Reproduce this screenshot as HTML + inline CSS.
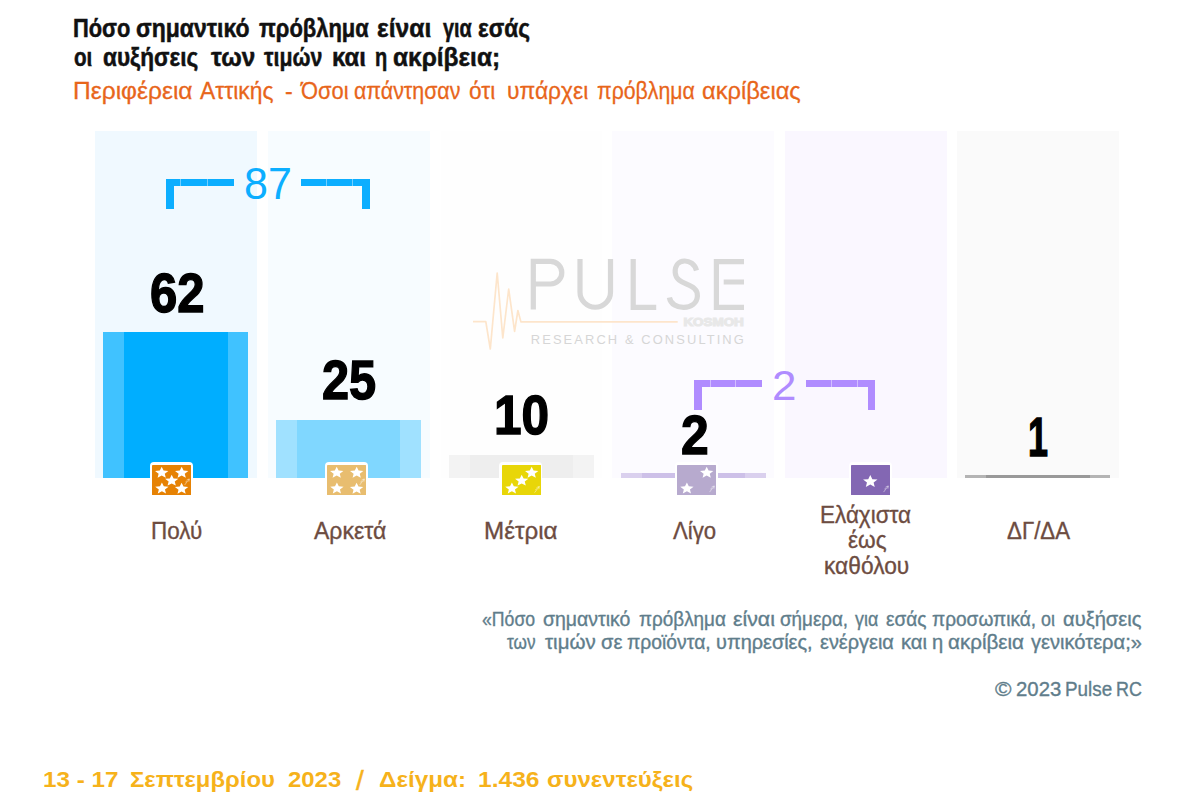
<!DOCTYPE html>
<html lang="el"><head><meta charset="utf-8"><title>Pulse RC</title>
<style>
html,body{margin:0;padding:0;background:#fff;}
body{width:1200px;height:808px;position:relative;overflow:hidden;font-family:"Liberation Sans",sans-serif;}
.t{position:absolute;white-space:nowrap;line-height:1;transform-origin:0 0;}
.abs{position:absolute;}
.r{position:absolute;}
.ico{position:absolute;background:#fff;border-radius:4px 4px 0 0;}
</style></head><body>
<div class="r" style="left:95.20px;top:131.20px;width:161.60px;height:346.60px;background:#F0F9FF"></div>
<div class="r" style="left:268.20px;top:131.20px;width:161.80px;height:346.60px;background:#F7FCFF"></div>
<div class="r" style="left:440.80px;top:131.20px;width:161.60px;height:346.60px;background:#FEFEFE"></div>
<div class="r" style="left:611.80px;top:131.20px;width:162.30px;height:346.60px;background:#FCFBFF"></div>
<div class="r" style="left:785.20px;top:131.20px;width:161.80px;height:346.60px;background:#FAF7FF"></div>
<div class="r" style="left:956.80px;top:131.20px;width:162.00px;height:346.60px;background:#FAFAFA"></div>
<div class="r" style="left:103.40px;top:332.00px;width:144.80px;height:145.80px;background:#40C2FF"></div>
<div class="r" style="left:124.00px;top:332.00px;width:103.70px;height:145.80px;background:#00AEFF"></div>
<div class="r" style="left:276.00px;top:419.70px;width:145.20px;height:58.10px;background:#A0E1FF"></div>
<div class="r" style="left:296.80px;top:419.70px;width:103.70px;height:58.10px;background:#80D7FF"></div>
<div class="r" style="left:449.20px;top:455.00px;width:144.80px;height:22.80px;background:#F3F3F3"></div>
<div class="r" style="left:470.20px;top:455.00px;width:103.00px;height:22.80px;background:#EEEEEE"></div>
<div class="r" style="left:620.80px;top:473.00px;width:145.20px;height:4.80px;background:#DAD0EE"></div>
<div class="r" style="left:641.90px;top:473.00px;width:103.30px;height:4.80px;background:#CDC0E8"></div>
<div class="r" style="left:965.40px;top:475.20px;width:144.70px;height:2.60px;background:#B4B4B4"></div>
<div class="r" style="left:986.20px;top:475.20px;width:103.50px;height:2.60px;background:#999999"></div>
<svg class="abs" style="left:465px;top:245px" width="300" height="115" viewBox="0 0 300 115">
<g fill="none" stroke="#D8D8D8" stroke-width="5.2" stroke-linejoin="miter">
<path d="M68.3 64.6 V16.4 H85.5 a11.3 11.3 0 0 1 0 22.6 H68.3"/>
<path d="M115 14 V47 a15.25 15.25 0 0 0 30.5 0 V14"/>
<path d="M168.2 14 V62.3 H191.2"/>
<path d="M231.5 25.5 C228 12.5 209.5 12.5 210.2 27.5 C211 41.5 233 37 232.4 51 C231.8 66 206.5 66 204.4 52.5"/>
<path d="M279 16.6 H251.4 V62.3 H279 M258.7 37 H279"/>
</g>
<path d="M8 76.7 H20.8 L25.3 104 L32.2 28 L37.8 93 L43.7 44 L49.6 86.3 L52.9 65.5 L55.9 76.9 H212.7" fill="none" stroke="#FDE5CB" stroke-width="1.7" stroke-linejoin="round"/>
<text x="218.4" y="81.4" font-family="Liberation Sans, sans-serif" font-weight="700" font-size="11.6" fill="#E8E8E8" stroke="#E8E8E8" stroke-width="1.1" textLength="60.4" lengthAdjust="spacingAndGlyphs">KOSMOH</text>
<text x="65.8" y="98.7" font-family="Liberation Sans, sans-serif" font-size="12.9" fill="#D6D6D6" textLength="213" lengthAdjust="spacing">RESEARCH &amp; CONSULTING</text>
</svg>
<div class="r" style="left:165.80px;top:178.70px;width:68.40px;height:7.60px;background:#0CAEFF"></div>
<div class="r" style="left:165.80px;top:178.70px;width:7.90px;height:30.00px;background:#0CAEFF"></div>
<div class="r" style="left:301.30px;top:178.70px;width:68.40px;height:7.60px;background:#0CAEFF"></div>
<div class="r" style="left:361.80px;top:178.70px;width:7.90px;height:30.00px;background:#0CAEFF"></div>
<div class="r" style="left:694.40px;top:379.60px;width:67.90px;height:7.60px;background:#B08CFF"></div>
<div class="r" style="left:694.40px;top:379.60px;width:7.70px;height:30.00px;background:#B08CFF"></div>
<div class="r" style="left:806.40px;top:379.60px;width:68.80px;height:7.60px;background:#B08CFF"></div>
<div class="r" style="left:867.50px;top:379.60px;width:7.70px;height:30.00px;background:#B08CFF"></div>
<div class="r" style="left:180.30px;top:178.70px;width:1.00px;height:7.60px;background:rgba(240,249,255,0.45)"></div>
<div class="r" style="left:206.50px;top:178.70px;width:1.00px;height:7.60px;background:rgba(240,249,255,0.45)"></div>
<div class="r" style="left:326.20px;top:178.70px;width:1.00px;height:7.60px;background:rgba(240,249,255,0.45)"></div>
<div class="r" style="left:352.00px;top:178.70px;width:1.00px;height:7.60px;background:rgba(240,249,255,0.45)"></div>
<div class="r" style="left:709.50px;top:379.60px;width:1.00px;height:7.60px;background:rgba(252,251,255,0.45)"></div>
<div class="r" style="left:735.10px;top:379.60px;width:1.00px;height:7.60px;background:rgba(252,251,255,0.45)"></div>
<div class="r" style="left:831.40px;top:379.60px;width:1.00px;height:7.60px;background:rgba(252,251,255,0.45)"></div>
<div class="r" style="left:857.00px;top:379.60px;width:1.00px;height:7.60px;background:rgba(252,251,255,0.45)"></div>
<div class="ico" style="left:149.80px;top:462.00px;width:43.20px;height:33.00px;"></div>
<svg class="abs" style="left:152.00px;top:464.80px" width="39.2" height="30.2" viewBox="0 0 39.2 30.2"><rect x="0" y="0" width="39.2" height="30.2" rx="0.8" fill="#E68204"/><polygon points="9.70,1.78 11.59,5.56 16.36,5.94 12.76,8.66 13.81,12.67 9.70,10.57 5.59,12.67 6.64,8.66 3.04,5.94 7.81,5.56" fill="#fff"/><polygon points="29.70,1.78 31.59,5.56 36.36,5.94 32.76,8.66 33.81,12.67 29.70,10.57 25.59,12.67 26.64,8.66 23.04,5.94 27.81,5.56" fill="#fff"/><polygon points="19.70,9.68 21.59,13.46 26.36,13.84 22.76,16.56 23.81,20.57 19.70,18.47 15.59,20.57 16.64,16.56 13.04,13.84 17.81,13.46" fill="#fff"/><polygon points="9.90,17.58 11.79,21.36 16.56,21.74 12.96,24.46 14.01,28.47 9.90,26.37 5.79,28.47 6.84,24.46 3.24,21.74 8.01,21.36" fill="#fff"/><polygon points="29.60,17.78 31.49,21.56 36.26,21.94 32.66,24.66 33.71,28.67 29.60,26.57 25.49,28.67 26.54,24.66 22.94,21.94 27.71,21.56" fill="#fff"/><path d="M32.6 20.1 L37.2 14.1 M34.6 15.1 L37.3 13.9 L36.9 16.7 M33.4 17.1 l1.4 -0.9" stroke="#fff" stroke-opacity="0.5" stroke-width="0.9" fill="none"/></svg>
<div class="ico" style="left:325.10px;top:462.00px;width:43.20px;height:33.00px;"></div>
<svg class="abs" style="left:327.30px;top:464.80px" width="39.2" height="30.2" viewBox="0 0 39.2 30.2"><rect x="0" y="0" width="39.2" height="30.2" rx="0.8" fill="#E8BD6F"/><polygon points="9.70,1.78 11.59,5.56 16.36,5.94 12.76,8.66 13.81,12.67 9.70,10.57 5.59,12.67 6.64,8.66 3.04,5.94 7.81,5.56" fill="#fff"/><polygon points="29.70,1.78 31.59,5.56 36.36,5.94 32.76,8.66 33.81,12.67 29.70,10.57 25.59,12.67 26.64,8.66 23.04,5.94 27.81,5.56" fill="#fff"/><polygon points="9.90,17.58 11.79,21.36 16.56,21.74 12.96,24.46 14.01,28.47 9.90,26.37 5.79,28.47 6.84,24.46 3.24,21.74 8.01,21.36" fill="#fff"/><polygon points="29.60,17.78 31.49,21.56 36.26,21.94 32.66,24.66 33.71,28.67 29.60,26.57 25.49,28.67 26.54,24.66 22.94,21.94 27.71,21.56" fill="#fff"/><path d="M32.6 20.1 L37.2 14.1 M34.6 15.1 L37.3 13.9 L36.9 16.7 M33.4 17.1 l1.4 -0.9" stroke="#fff" stroke-opacity="0.5" stroke-width="0.9" fill="none"/></svg>
<div class="ico" style="left:499.30px;top:462.00px;width:43.20px;height:33.00px;"></div>
<svg class="abs" style="left:501.50px;top:464.80px" width="39.2" height="30.2" viewBox="0 0 39.2 30.2"><rect x="0" y="0" width="39.2" height="30.2" rx="0.8" fill="#E8D608"/><polygon points="29.70,1.78 31.59,5.56 36.36,5.94 32.76,8.66 33.81,12.67 29.70,10.57 25.59,12.67 26.64,8.66 23.04,5.94 27.81,5.56" fill="#fff"/><polygon points="19.70,9.68 21.59,13.46 26.36,13.84 22.76,16.56 23.81,20.57 19.70,18.47 15.59,20.57 16.64,16.56 13.04,13.84 17.81,13.46" fill="#fff"/><polygon points="9.90,17.58 11.79,21.36 16.56,21.74 12.96,24.46 14.01,28.47 9.90,26.37 5.79,28.47 6.84,24.46 3.24,21.74 8.01,21.36" fill="#fff"/><path d="M32.6 27.6 L37.2 21.6 M34.6 22.6 L37.3 21.4 L36.9 24.2 M33.4 24.6 l1.4 -0.9" stroke="#fff" stroke-opacity="0.5" stroke-width="0.9" fill="none"/></svg>
<div class="ico" style="left:674.70px;top:462.00px;width:43.20px;height:33.00px;"></div>
<svg class="abs" style="left:676.90px;top:464.80px" width="39.2" height="30.2" viewBox="0 0 39.2 30.2"><rect x="0" y="0" width="39.2" height="30.2" rx="0.8" fill="#B7AACE"/><polygon points="29.70,1.78 31.59,5.56 36.36,5.94 32.76,8.66 33.81,12.67 29.70,10.57 25.59,12.67 26.64,8.66 23.04,5.94 27.81,5.56" fill="#fff"/><polygon points="9.90,17.58 11.79,21.36 16.56,21.74 12.96,24.46 14.01,28.47 9.90,26.37 5.79,28.47 6.84,24.46 3.24,21.74 8.01,21.36" fill="#fff"/><path d="M32.6 27.1 L37.2 21.1 M34.6 22.1 L37.3 20.9 L36.9 23.7 M33.4 24.1 l1.4 -0.9" stroke="#fff" stroke-opacity="0.5" stroke-width="0.9" fill="none"/></svg>
<div class="ico" style="left:848.80px;top:462.00px;width:43.20px;height:33.00px;"></div>
<svg class="abs" style="left:851.00px;top:464.80px" width="39.2" height="30.2" viewBox="0 0 39.2 30.2"><rect x="0" y="0" width="39.2" height="30.2" rx="0.8" fill="#8367B3"/><polygon points="19.30,10.06 21.35,14.17 26.53,14.58 22.62,17.53 23.77,21.89 19.30,19.61 14.83,21.89 15.98,17.53 12.07,14.58 17.25,14.17" fill="#fff"/><path d="M32.6 27.1 L37.2 21.1 M34.6 22.1 L37.3 20.9 L36.9 23.7 M33.4 24.1 l1.4 -0.9" stroke="#fff" stroke-opacity="0.5" stroke-width="0.9" fill="none"/></svg>
<div class="t" style="left:73.19px;top:15.69px;font-size:25.4px;font-weight:700;color:#111111;transform:scaleX(0.8602);-webkit-text-stroke:0.5px #111111;">Πόσο</div>
<div class="t" style="left:136.06px;top:15.69px;font-size:25.4px;font-weight:700;color:#111111;transform:scaleX(0.9056);-webkit-text-stroke:0.5px #111111;">σημαντικό</div>
<div class="t" style="left:259.18px;top:15.69px;font-size:25.4px;font-weight:700;color:#111111;transform:scaleX(0.8648);-webkit-text-stroke:0.5px #111111;">πρόβλημα</div>
<div class="t" style="left:377.32px;top:15.69px;font-size:25.4px;font-weight:700;color:#111111;transform:scaleX(0.9707);-webkit-text-stroke:0.5px #111111;">είναι</div>
<div class="t" style="left:443.15px;top:15.69px;font-size:25.4px;font-weight:700;color:#111111;transform:scaleX(0.7835);-webkit-text-stroke:0.5px #111111;">για</div>
<div class="t" style="left:478.37px;top:15.69px;font-size:25.4px;font-weight:700;color:#111111;transform:scaleX(0.8940);-webkit-text-stroke:0.5px #111111;">εσάς</div>
<div class="t" style="left:73.73px;top:44.59px;font-size:25.4px;font-weight:700;color:#111111;transform:scaleX(0.8136);-webkit-text-stroke:0.5px #111111;">οι</div>
<div class="t" style="left:103.37px;top:44.59px;font-size:25.4px;font-weight:700;color:#111111;transform:scaleX(0.8908);-webkit-text-stroke:0.5px #111111;">αυξήσεις</div>
<div class="t" style="left:210.66px;top:44.59px;font-size:25.4px;font-weight:700;color:#111111;transform:scaleX(0.9561);-webkit-text-stroke:0.5px #111111;">των</div>
<div class="t" style="left:264.45px;top:44.59px;font-size:25.4px;font-weight:700;color:#111111;transform:scaleX(0.8384);-webkit-text-stroke:0.5px #111111;">τιμών</div>
<div class="t" style="left:331.62px;top:44.59px;font-size:25.4px;font-weight:700;color:#111111;transform:scaleX(0.9422);-webkit-text-stroke:0.5px #111111;">και</div>
<div class="t" style="left:374.80px;top:44.59px;font-size:25.4px;font-weight:700;color:#111111;transform:scaleX(0.7879);-webkit-text-stroke:0.5px #111111;">η</div>
<div class="t" style="left:392.92px;top:44.59px;font-size:25.4px;font-weight:700;color:#111111;transform:scaleX(0.9627);-webkit-text-stroke:0.5px #111111;">ακρίβεια;</div>
<div class="t" style="left:72.59px;top:79.18px;font-size:24.0px;font-weight:400;color:#E8651A;transform:scaleX(1.0232);-webkit-text-stroke:0.3px #E8651A;">Περιφέρεια</div>
<div class="t" style="left:200.14px;top:79.18px;font-size:24.0px;font-weight:400;color:#E8651A;transform:scaleX(0.9505);-webkit-text-stroke:0.3px #E8651A;">Αττικής</div>
<div class="t" style="left:285.16px;top:79.18px;font-size:24.0px;font-weight:400;color:#E8651A;transform:scaleX(0.9615);-webkit-text-stroke:0.3px #E8651A;">-</div>
<div class="t" style="left:300.90px;top:79.18px;font-size:24.0px;font-weight:400;color:#E8651A;transform:scaleX(0.9132);-webkit-text-stroke:0.3px #E8651A;">Όσοι</div>
<div class="t" style="left:354.28px;top:79.18px;font-size:24.0px;font-weight:400;color:#E8651A;transform:scaleX(0.8906);-webkit-text-stroke:0.3px #E8651A;">απάντησαν</div>
<div class="t" style="left:469.24px;top:79.18px;font-size:24.0px;font-weight:400;color:#E8651A;transform:scaleX(0.9427);-webkit-text-stroke:0.3px #E8651A;">ότι</div>
<div class="t" style="left:507.22px;top:79.18px;font-size:24.0px;font-weight:400;color:#E8651A;transform:scaleX(0.9505);-webkit-text-stroke:0.3px #E8651A;">υπάρχει</div>
<div class="t" style="left:596.64px;top:79.18px;font-size:24.0px;font-weight:400;color:#E8651A;transform:scaleX(0.8851);-webkit-text-stroke:0.3px #E8651A;">πρόβλημα</div>
<div class="t" style="left:702.40px;top:79.18px;font-size:24.0px;font-weight:400;color:#E8651A;transform:scaleX(0.9862);-webkit-text-stroke:0.3px #E8651A;">ακρίβειας</div>
<div class="t" style="left:244.37px;top:161.78px;font-size:44.2px;font-weight:400;color:#0CAEFF;transform:scaleX(0.9737);">87</div>
<div class="t" style="left:772.10px;top:363.76px;font-size:42.8px;font-weight:400;color:#B08CFF;transform:scaleX(1.0265);">2</div>
<div class="t" style="left:149.60px;top:266.42px;font-size:55.6px;font-weight:700;color:#000;transform:scaleX(0.8818);-webkit-text-stroke:1.4px #000;">62</div>
<div class="t" style="left:322.03px;top:352.92px;font-size:55.6px;font-weight:700;color:#000;transform:scaleX(0.8762);-webkit-text-stroke:1.4px #000;">25</div>
<div class="t" style="left:493.93px;top:387.92px;font-size:55.6px;font-weight:700;color:#000;transform:scaleX(0.8913);-webkit-text-stroke:1.4px #000;">10</div>
<div class="t" style="left:681.01px;top:407.92px;font-size:55.6px;font-weight:700;color:#000;transform:scaleX(0.8954);-webkit-text-stroke:1.4px #000;">2</div>
<div class="t" style="left:1027.71px;top:410.22px;font-size:55.6px;font-weight:700;color:#000;transform:scaleX(0.6462);-webkit-text-stroke:1.4px #000;">1</div>
<div class="t" style="left:150.87px;top:518.71px;font-size:24.2px;font-weight:400;color:#6D4C41;transform:scaleX(0.9276);-webkit-text-stroke:0.35px #6D4C41;">Πολύ</div>
<div class="t" style="left:313.87px;top:518.71px;font-size:24.2px;font-weight:400;color:#6D4C41;transform:scaleX(0.9515);-webkit-text-stroke:0.35px #6D4C41;">Αρκετά</div>
<div class="t" style="left:484.44px;top:518.71px;font-size:24.2px;font-weight:400;color:#6D4C41;transform:scaleX(0.9989);-webkit-text-stroke:0.35px #6D4C41;">Μέτρια</div>
<div class="t" style="left:672.55px;top:518.71px;font-size:24.2px;font-weight:400;color:#6D4C41;transform:scaleX(0.9173);-webkit-text-stroke:0.35px #6D4C41;">Λίγο</div>
<div class="t" style="left:819.56px;top:502.51px;font-size:24.2px;font-weight:400;color:#6D4C41;transform:scaleX(0.9288);-webkit-text-stroke:0.35px #6D4C41;">Ελάχιστα</div>
<div class="t" style="left:847.53px;top:527.81px;font-size:24.2px;font-weight:400;color:#6D4C41;transform:scaleX(0.9324);-webkit-text-stroke:0.35px #6D4C41;">έως</div>
<div class="t" style="left:823.68px;top:553.91px;font-size:24.2px;font-weight:400;color:#6D4C41;transform:scaleX(0.9409);-webkit-text-stroke:0.35px #6D4C41;">καθόλου</div>
<div class="t" style="left:1006.75px;top:518.71px;font-size:24.2px;font-weight:400;color:#6D4C41;transform:scaleX(0.9212);-webkit-text-stroke:0.35px #6D4C41;">ΔΓ/ΔΑ</div>
<div class="t" style="left:482.45px;top:609.89px;font-size:19.5px;font-weight:400;color:#607D8B;transform:scaleX(0.9054);-webkit-text-stroke:0.35px #607D8B;">«Πόσο</div>
<div class="t" style="left:543.40px;top:609.89px;font-size:19.5px;font-weight:400;color:#607D8B;transform:scaleX(0.9966);-webkit-text-stroke:0.35px #607D8B;">σημαντικό</div>
<div class="t" style="left:639.46px;top:609.89px;font-size:19.5px;font-weight:400;color:#607D8B;transform:scaleX(0.9687);-webkit-text-stroke:0.35px #607D8B;">πρόβλημα</div>
<div class="t" style="left:732.50px;top:609.89px;font-size:19.5px;font-weight:400;color:#607D8B;transform:scaleX(1.0920);-webkit-text-stroke:0.35px #607D8B;">είναι</div>
<div class="t" style="left:780.42px;top:609.89px;font-size:19.5px;font-weight:400;color:#607D8B;transform:scaleX(0.9642);-webkit-text-stroke:0.35px #607D8B;">σήμερα,</div>
<div class="t" style="left:855.12px;top:609.89px;font-size:19.5px;font-weight:400;color:#607D8B;transform:scaleX(0.9158);-webkit-text-stroke:0.35px #607D8B;">για</div>
<div class="t" style="left:885.55px;top:609.89px;font-size:19.5px;font-weight:400;color:#607D8B;transform:scaleX(0.9773);-webkit-text-stroke:0.35px #607D8B;">εσάς</div>
<div class="t" style="left:932.46px;top:609.89px;font-size:19.5px;font-weight:400;color:#607D8B;transform:scaleX(0.9781);-webkit-text-stroke:0.35px #607D8B;">προσωπικά,</div>
<div class="t" style="left:1041.45px;top:609.89px;font-size:19.5px;font-weight:400;color:#607D8B;transform:scaleX(0.9158);-webkit-text-stroke:0.35px #607D8B;">οι</div>
<div class="t" style="left:1063.38px;top:609.89px;font-size:19.5px;font-weight:400;color:#607D8B;transform:scaleX(1.0322);-webkit-text-stroke:0.35px #607D8B;">αυξήσεις</div>
<div class="t" style="left:506.94px;top:632.69px;font-size:19.5px;font-weight:400;color:#607D8B;transform:scaleX(0.8807);-webkit-text-stroke:0.35px #607D8B;">των</div>
<div class="t" style="left:544.93px;top:632.69px;font-size:19.5px;font-weight:400;color:#607D8B;transform:scaleX(1.0496);-webkit-text-stroke:0.35px #607D8B;">τιμών</div>
<div class="t" style="left:600.60px;top:632.69px;font-size:19.5px;font-weight:400;color:#607D8B;transform:scaleX(1.0302);-webkit-text-stroke:0.35px #607D8B;">σε</div>
<div class="t" style="left:627.45px;top:632.69px;font-size:19.5px;font-weight:400;color:#607D8B;transform:scaleX(0.9909);-webkit-text-stroke:0.35px #607D8B;">προϊόντα,</div>
<div class="t" style="left:715.93px;top:632.69px;font-size:19.5px;font-weight:400;color:#607D8B;transform:scaleX(1.0212);-webkit-text-stroke:0.35px #607D8B;">υπηρεσίες,</div>
<div class="t" style="left:819.53px;top:632.69px;font-size:19.5px;font-weight:400;color:#607D8B;transform:scaleX(1.0220);-webkit-text-stroke:0.35px #607D8B;">ενέργεια</div>
<div class="t" style="left:900.87px;top:632.69px;font-size:19.5px;font-weight:400;color:#607D8B;transform:scaleX(1.0358);-webkit-text-stroke:0.35px #607D8B;">και</div>
<div class="t" style="left:931.55px;top:632.69px;font-size:19.5px;font-weight:400;color:#607D8B;transform:scaleX(1.0302);-webkit-text-stroke:0.35px #607D8B;">η</div>
<div class="t" style="left:948.36px;top:632.69px;font-size:19.5px;font-weight:400;color:#607D8B;transform:scaleX(1.0565);-webkit-text-stroke:0.35px #607D8B;">ακρίβεια</div>
<div class="t" style="left:1031.13px;top:632.69px;font-size:19.5px;font-weight:400;color:#607D8B;transform:scaleX(1.0302);-webkit-text-stroke:0.35px #607D8B;">γενικότερα;»</div>
<div class="t" style="left:994.85px;top:679.06px;font-size:20.6px;font-weight:400;color:#607D8B;transform:scaleX(1.0855);-webkit-text-stroke:0.35px #607D8B;">©</div>
<div class="t" style="left:1016.06px;top:679.06px;font-size:20.6px;font-weight:400;color:#607D8B;transform:scaleX(0.9881);-webkit-text-stroke:0.35px #607D8B;">2023</div>
<div class="t" style="left:1065.15px;top:679.06px;font-size:20.6px;font-weight:400;color:#607D8B;transform:scaleX(0.9163);-webkit-text-stroke:0.35px #607D8B;">Pulse</div>
<div class="t" style="left:1116.22px;top:679.06px;font-size:20.6px;font-weight:400;color:#607D8B;transform:scaleX(0.8701);-webkit-text-stroke:0.35px #607D8B;">RC</div>
<div class="t" style="left:43.09px;top:768.64px;font-size:21.8px;font-weight:700;color:#F6B21B;transform:scaleX(1.1119);">13 - 17</div>
<div class="t" style="left:129.59px;top:768.64px;font-size:21.8px;font-weight:700;color:#F6B21B;transform:scaleX(1.0943);">Σεπτεμβρίου</div>
<div class="t" style="left:288.22px;top:768.64px;font-size:21.8px;font-weight:700;color:#F6B21B;transform:scaleX(1.0971);">2023</div>
<div class="t" style="left:356.24px;top:766.37px;font-size:28.5px;font-weight:400;color:#F6B21B;transform:scaleX(0.9788);-webkit-text-stroke:0.5px #F6B21B;">/</div>
<div class="t" style="left:379.23px;top:768.64px;font-size:21.8px;font-weight:700;color:#F6B21B;transform:scaleX(1.1121);">Δείγμα:</div>
<div class="t" style="left:477.86px;top:768.64px;font-size:21.8px;font-weight:700;color:#F6B21B;transform:scaleX(1.1280);">1.436</div>
<div class="t" style="left:547.00px;top:768.64px;font-size:21.8px;font-weight:700;color:#F6B21B;transform:scaleX(1.1040);">συνεντεύξεις</div>
</body></html>
